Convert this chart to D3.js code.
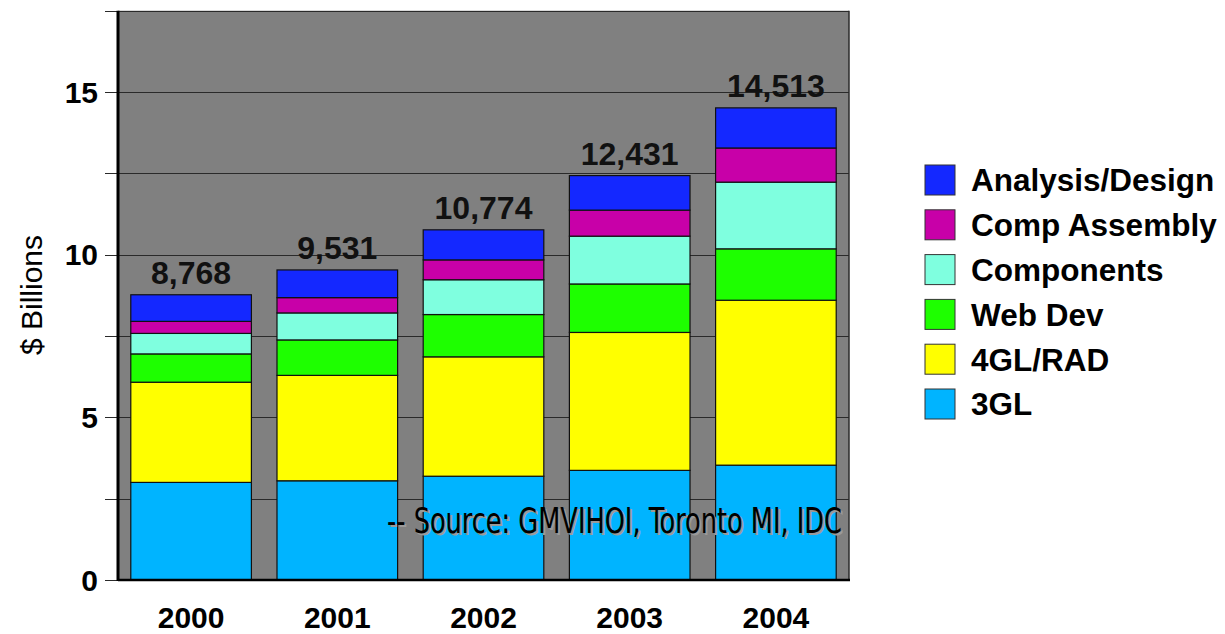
<!DOCTYPE html>
<html>
<head>
<meta charset="utf-8">
<script src="https://cdn.jsdelivr.net/npm/d3@7"></script>
<style>
  body { margin: 0; background: #fff; }
  svg { display: block; }
</style>
</head>
<body>
<div id="chart"></div>
<script>
const years = ["2000", "2001", "2002", "2003", "2004"];
const seriesNames = ["3GL", "4GL/RAD", "Web Dev", "Components", "Comp Assembly", "Analysis/Design"];
const seriesColors = ["#00b4ff", "#ffff00", "#1eff00", "#7fffdf", "#c800a8", "#1428ff"];

// $ billions per segment
const gl3 = [3.00, 3.05, 3.19, 3.37, 3.53];
const gl4 = [3.08, 3.24, 3.67, 4.24, 5.07];
const webDev = [0.87, 1.09, 1.30, 1.49, 1.58];
const components = [0.63, 0.83, 1.07, 1.47, 2.05];
const compAssembly = [0.37, 0.47, 0.61, 0.80, 1.05];
const analysisDesign = [0.818, 0.851, 0.924, 1.061, 1.233];

const totals = ["8,768", "9,531", "10,774", "12,431", "14,513"];
const yTicks = [0, 2.5, 5, 7.5, 10, 12.5, 15, 17.5];
const yLabels = [0, 5, 10, 15];

const width = 1225, height = 634;
const margin = { top: 10.7, right: 376, bottom: 54, left: 118 };

const svg = d3.select("#chart").append("svg")
  .attr("width", width)
  .attr("height", height);

const table = years.map((yr, i) => ({
  year: yr,
  "3GL": gl3[i],
  "4GL/RAD": gl4[i],
  "Web Dev": webDev[i],
  "Components": components[i],
  "Comp Assembly": compAssembly[i],
  "Analysis/Design": analysisDesign[i],
  total: totals[i]
}));

const x = d3.scaleBand()
  .domain(years)
  .range([margin.left, width - margin.right])
  .paddingInner(0.175)
  .paddingOuter(0.0875);

const y = d3.scaleLinear()
  .domain([0, 17.5])
  .range([height - margin.bottom, margin.top]);

const color = d3.scaleOrdinal(seriesNames, seriesColors);

// plot background
svg.append("rect")
  .attr("x", margin.left)
  .attr("y", y(17.5))
  .attr("width", x.range()[1] - margin.left)
  .attr("height", y(0) - y(17.5))
  .attr("fill", "#808080");

// grid lines + left ticks
svg.append("g")
  .selectAll("line")
  .data(yTicks)
  .join("line")
  .attr("x1", margin.left - 13)
  .attr("x2", x.range()[1])
  .attr("y1", d => Math.round(y(d)) + 0.5)
  .attr("y2", d => Math.round(y(d)) + 0.5)
  .attr("stroke", "#2a2a2a")
  .attr("stroke-width", 1);

// right border
svg.append("line")
  .attr("x1", x.range()[1]).attr("x2", x.range()[1])
  .attr("y1", y(17.5)).attr("y2", y(0))
  .attr("stroke", "#2a2a2a")
  .attr("stroke-width", 1.5);

const stack = d3.stack().keys(seriesNames)(table);

svg.append("g")
  .selectAll("g")
  .data(stack)
  .join("g")
  .attr("fill", d => color(d.key))
  .selectAll("rect")
  .data(d => d)
  .join("rect")
  .attr("x", d => x(d.data.year))
  .attr("y", d => y(d[1]))
  .attr("width", x.bandwidth())
  .attr("height", d => y(d[0]) - y(d[1]))
  .attr("stroke", "#111")
  .attr("stroke-width", 1.2);

// axis lines
svg.append("line")
  .attr("x1", margin.left).attr("x2", margin.left)
  .attr("y1", y(17.5)).attr("y2", y(0) + 1)
  .attr("stroke", "#000").attr("stroke-width", 3);
svg.append("line")
  .attr("x1", margin.left).attr("x2", x.range()[1] + 1)
  .attr("y1", y(0)).attr("y2", y(0))
  .attr("stroke", "#000").attr("stroke-width", 2.5);

// y tick labels
svg.append("g")
  .selectAll("text")
  .data(yLabels)
  .join("text")
  .attr("x", 98)
  .attr("y", d => y(d))
  .attr("dy", "0.36em")
  .attr("text-anchor", "end")
  .attr("font-family", "Liberation Sans, Arial, sans-serif")
  .attr("font-weight", "bold")
  .attr("font-size", 30)
  .text(d => d);

// x labels
svg.append("g")
  .selectAll("text")
  .data(years)
  .join("text")
  .attr("x", d => x(d) + x.bandwidth() / 2)
  .attr("y", 628)
  .attr("text-anchor", "middle")
  .attr("font-family", "Liberation Sans, Arial, sans-serif")
  .attr("font-weight", "bold")
  .attr("font-size", 30)
  .text(d => d);

// totals above bars
svg.append("g")
  .selectAll("text")
  .data(table)
  .join("text")
  .attr("x", d => x(d.year) + x.bandwidth() / 2)
  .attr("y", d => y(d3.sum(seriesNames, k => d[k])) - 11)
  .attr("text-anchor", "middle")
  .attr("font-family", "Liberation Sans, Arial, sans-serif")
  .attr("font-weight", "bold")
  .attr("font-size", 32)
  .attr("fill", "#111")
  .text(d => d.total);

// y axis title
svg.append("text")
  .attr("transform", "translate(42,295) rotate(-90)")
  .attr("text-anchor", "middle")
  .attr("font-family", "Liberation Sans, Arial, sans-serif")
  .attr("font-size", 30)
  .text("$ Billions");

// source note with shadow
const src = "-- Source: GMVIHOI, Toronto MI, IDC";
[["#9a9a9a", 2, 2], ["#000", 0, 0]].forEach(([c, dx, dy]) => {
  svg.append("text")
    .attr("x", 387 + dx)
    .attr("y", 533 + dy)
    .attr("font-family", "Liberation Sans Narrow, DejaVu Sans Condensed, sans-serif")
    .attr("font-size", 35)
    .attr("textLength", 455)
    .attr("lengthAdjust", "spacingAndGlyphs")
    .attr("fill", c)
    .text(src);
});

// legend
const legendOrder = seriesNames.slice().reverse();
const legend = svg.append("g")
  .selectAll("g")
  .data(legendOrder)
  .join("g")
  .attr("transform", (d, i) => `translate(925,${165 + i * 44.8})`);

legend.append("rect")
  .attr("width", 30)
  .attr("height", 30)
  .attr("fill", d => color(d))
  .attr("stroke", "#333")
  .attr("stroke-width", 1);

legend.append("text")
  .attr("x", 46)
  .attr("y", 15)
  .attr("dy", "0.36em")
  .attr("font-family", "Liberation Sans, Arial, sans-serif")
  .attr("font-weight", "bold")
  .attr("font-size", 31.5)
  .text(d => d);
</script>
</body>
</html>
